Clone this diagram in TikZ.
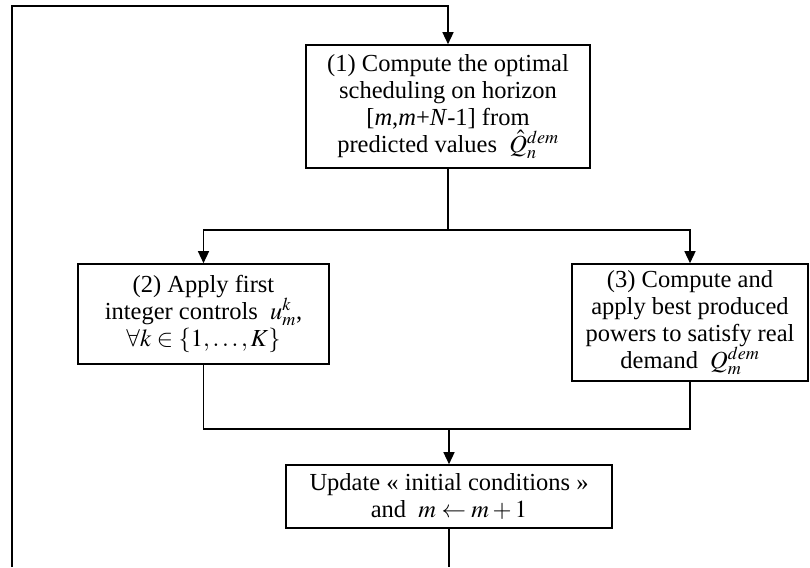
\documentclass[tikz,border=0pt]{standalone}
\usepackage{mathptmx}
\usepackage{fontspec}
\setmainfont{Liberation Serif}
\usetikzlibrary{arrows.meta}
\begin{document}
\begin{tikzpicture}[x=1pt,y=-1pt,
  box/.style={draw,line width=1.6pt,align=center,inner sep=0pt,
    font=\fontsize{24.5}{27}\selectfont},
  conn/.style={line width=1.4pt},
  arr/.style={conn,-{Triangle[length=12pt,width=11pt]}}]
\useasboundingbox (0,0) rectangle (810,567);
\node[box,minimum width=284pt,minimum height=123pt] (b1) at (448,106.5)
  {(1) Compute the optimal\\scheduling on horizon\\{[}\textit{m},\textit{m}+\textit{N}-1{]} from\\predicted values\ \ $\hat{Q}_n^{dem}$};
\node[box,minimum width=251pt,minimum height=100pt] (b2) at (203.5,314)
  {(2) Apply first\\integer controls\ \ $u_m^k$,\\$\forall k\in\{1,\dots,K\}$};
\node[box,minimum width=236pt,minimum height=117pt] (b3) at (690,322.5)
  {(3) Compute and\\apply best produced\\powers to satisfy real\\demand\ \ $Q_m^{dem}$};
\node[box,minimum width=326pt,minimum height=63pt] (b4) at (449,496.5)
  {Update « initial conditions »\\and\ \ $m\leftarrow m+1$};
\coordinate (j1) at (448,230);
\coordinate (j2) at (448,429);
\coordinate (top) at (448,6);
\coordinate (tl) at (12,6);
\coordinate (bl) at (12,567);
\coordinate (bot) at (449,567);
\draw[conn] (b1.south) -- (j1);
\draw[arr] (j1) -- (b2.north |- j1) -- (b2.north);
\draw[arr] (j1) -- (b3.north |- j1) -- (b3.north);
\draw[conn] (b2.south) -- (b2.south |- j2) -- (b3.south |- j2) -- (b3.south);
\draw[arr] (b4.north |- j2) -- (b4.north);
\draw[conn] (b4.south) -- (bot);
\draw[arr] (bl) -- (tl) -- (top) -- (b1.north);
\end{tikzpicture}
\end{document}
